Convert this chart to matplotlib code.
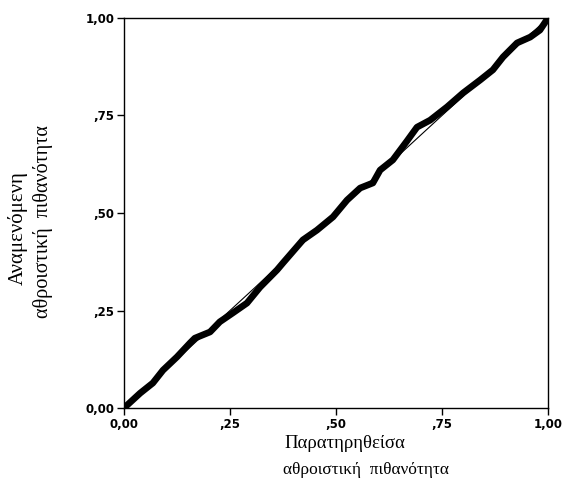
import matplotlib
matplotlib.use("Agg")
import matplotlib.pyplot as plt

# Observed cumulative probability (x) vs expected cumulative probability (y)
observed = [0.0, 0.038, 0.068, 0.092, 0.125, 0.156, 0.167, 0.203, 0.226, 0.257,
            0.29, 0.321, 0.361, 0.375, 0.422, 0.455, 0.493, 0.526, 0.557, 0.587,
            0.604, 0.634, 0.667, 0.691, 0.722, 0.762, 0.8, 0.84, 0.87, 0.894,
            0.927, 0.958, 0.981, 1.0]
expected = [0.0, 0.038, 0.064, 0.097, 0.131, 0.167, 0.179, 0.195, 0.221, 0.244,
            0.269, 0.31, 0.354, 0.372, 0.431, 0.456, 0.49, 0.533, 0.564, 0.577,
            0.61, 0.636, 0.684, 0.72, 0.738, 0.772, 0.808, 0.841, 0.867, 0.9,
            0.936, 0.951, 0.969, 1.0]
ref_line = [0.0, 1.0]
tick_vals = [0.0, 0.25, 0.5, 0.75, 1.0]
tick_labels = ["0,00", ",25", ",50", ",75", "1,00"]
ylabel_lines = ["Αναμενόμενη", "αθροιστική  πιθανότητα"]
xlabel_lines = ["Παρατηρηθείσα", "αθροιστική  πιθανότητα"]

fig = plt.figure(figsize=(5.67, 4.92), dpi=100)
ax = fig.add_axes([124/567, 1-408/492, (548-124)/567, (408-18)/492])

ax.plot(ref_line, ref_line, color="black", lw=0.8)
ax.plot(observed, expected, color="black", lw=4.8, solid_capstyle="round",
        solid_joinstyle="round")

ax.set_xlim(0, 1)
ax.set_ylim(0, 1)
ax.set_xticks(tick_vals)
ax.set_yticks(tick_vals)
ax.set_xticklabels(tick_labels)
ax.set_yticklabels(tick_labels)
for lab in ax.get_xticklabels() + ax.get_yticklabels():
    lab.set_fontfamily("DejaVu Sans")
    lab.set_fontweight("bold")
    lab.set_fontsize(8.5)
ax.tick_params(direction="out", length=5, width=1, pad=2)
for s in ax.spines.values():
    s.set_linewidth(1.0)

serif = "Liberation Serif"
fig.text(18/567, 1-228/492, ylabel_lines[0], rotation=90, ha="center", va="center",
         family=serif, fontsize=15)
fig.text(43/567, 1-222/492, ylabel_lines[1], rotation=90, ha="center", va="center",
         family=serif, fontsize=14.5)
fig.text(345/567, 1-443/492, xlabel_lines[0], ha="center", va="center",
         family=serif, fontsize=13.5)
fig.text(366/567, 1-470/492, xlabel_lines[1], ha="center", va="center",
         family=serif, fontsize=12.5)

fig.savefig("out.png", dpi=100)
